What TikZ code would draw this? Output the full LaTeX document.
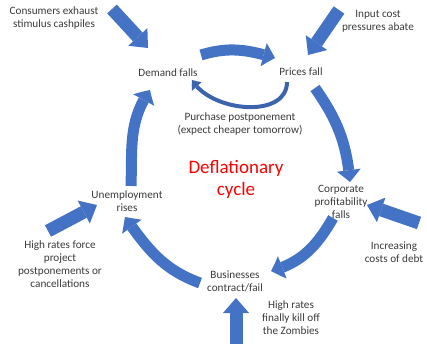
\documentclass[tikz,border=0pt]{standalone}
\usepackage{fontspec}
\setmainfont{Carlito}
\usepackage{xcolor}
\usepackage{tikz}
\usetikzlibrary{arrows.meta}
\usetikzlibrary{calc, bending}
\definecolor{cycblue}{HTML}{4472C4}
\definecolor{txtgray}{HTML}{3A3A3A}

\begin{document}
\begin{tikzpicture}[x=1pt, y=1pt,
    txt/.style={font=\fontsize{11.2}{13}\selectfont, text=txtgray, align=center},
    heading/.style={font=\fontsize{19}{22}\selectfont, text=red, align=center},
    push/.style={cycblue, line width=13pt, -{Triangle[length=15pt, width=26pt, line width=0pt]}},
    turn/.style={cycblue, line width=11pt, -{Triangle[length=12pt, width=24pt, line width=0pt, bend]}},
    back/.style={cycblue!88!black, line width=4pt, -{Triangle[length=8pt, width=13pt, line width=0pt, bend]}}]
                \useasboundingbox (0,0) rectangle (427,343);
                % stages of the cycle
                \node[txt] (demand) at (168,270) {Demand falls};
                \node[txt] (prices) at (301,271) {Prices fall};
                \node[txt] (corp) at (341,141) {Corporate\\profitability\\falls};
                \node[txt] (biz) at (235,62) {Businesses\\contract/fail};
                \node[txt] (unemp) at (127,142) {Unemployment\\rises};
                \node[txt] (postpone) at (240,219) {Purchase postponement\\(expect cheaper tomorrow)};
                \node[heading] (deflation) at (236,164) {Deflationary\\cycle};
                % outside pressures
                \node[txt] (consumers) at (54,325) {Consumers exhaust\\stimulus cashpiles};
                \node[txt] (input) at (378,322) {Input cost\\pressures abate};
                \node[txt] (force) at (60,79) {High rates force\\project\\postponements or\\cancellations};
                \node[txt] (debt) at (394,91) {Increasing\\costs of debt};
                \node[txt] (zombies) at (291,25) {High rates\\finally kill off\\the Zombies};
                % round the cycle
                \draw[turn] ($(demand)+(33,18)$) to[out=17, in=163] ($(prices)+(-26,14)$);
                \draw[turn] ($(prices)+(14,-16)$) to[out=-55, in=95] ($(corp)+(9,20)$);
                \draw[turn] ($(corp)+(-8,-16)$) to[out=-120, in=15] ($(biz)+(36,10)$);
                \draw[turn] ($(biz)+(-35,-2)$) to[out=160, in=-55] ($(unemp)+(-2,-16)$);
                \draw[turn] ($(unemp)+(4,15)$) to[out=88, in=-125] ($(demand)+(-18,-17)$);
                \draw[back] ($(prices)+(-14,-10)$) to[out=-90, in=-60] ($(demand)+(24,-7)$);
                % pushes from outside
                \draw[push] ($(consumers)+(58,9)$) -- ($(demand)+(-20,25)$);
                \draw[push] ($(input)+(-39,11)$) -- ($(prices)+(7,17)$);
                \draw[push] ($(force)+(-12,33)$) -- ($(unemp)+(-30,-4)$);
                \draw[push] ($(debt)+(25,29)$) -- ($(corp)+(26,-3)$);
                \draw[push] ($(zombies)+(-55,-27)$) -- ($(biz)+(1,-17)$);
            \end{tikzpicture}
\end{document}
